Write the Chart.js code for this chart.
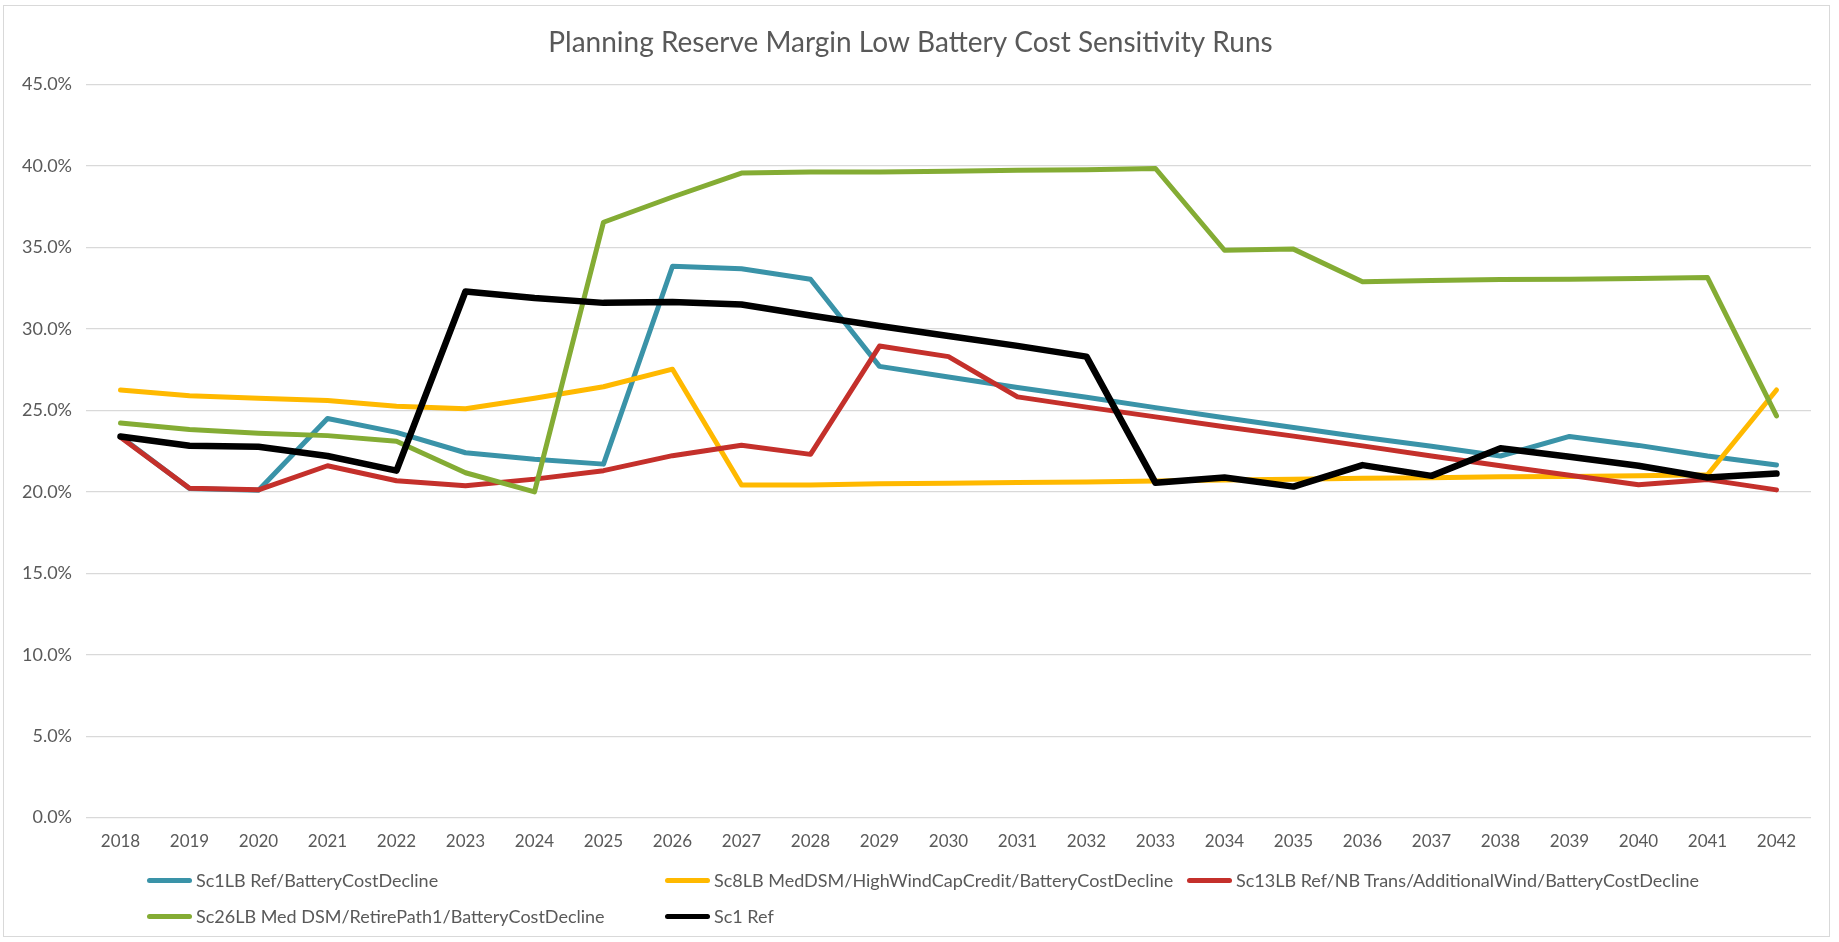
<!DOCTYPE html>
<html>
<head>
<meta charset="utf-8">
<script src="https://cdn.jsdelivr.net/npm/chart.js@4"></script>
<style>
html, body { margin: 0; padding: 0; background: #fff; }
#wrap { position: relative; width: 1839px; height: 942px; }
#frame { position: absolute; left: 3px; top: 5px; width: 1827px; height: 932px; border: 1px solid #d9d9d9; box-sizing: border-box; pointer-events: none; }
#legend .item { position: absolute; display: flex; align-items: center; font: 18px Lato, sans-serif; color: #595959; white-space: nowrap; }
#legend .swatch { width: 45px; height: 5px; border-radius: 3px; margin-right: 4px; }
</style>
</head>
<body>
<div id="wrap">
    <canvas id="prmChart" width="1839" height="942"></canvas>
    <div id="frame"></div>
    <div id="legend"></div>
</div>
<script>
// ======================================
// DATA
// ======================================

const years = [
    "2018","2019","2020","2021","2022","2023","2024","2025","2026",
    "2027","2028","2029","2030","2031","2032","2033","2034","2035",
    "2036","2037","2038","2039","2040","2041","2042"
];

const seriesNames = [
    "Sc1LB Ref/BatteryCostDecline",
    "Sc8LB MedDSM/HighWindCapCredit/BatteryCostDecline",
    "Sc13LB Ref/NB Trans/AdditionalWind/BatteryCostDecline",
    "Sc26LB Med DSM/RetirePath1/BatteryCostDecline",
    "Sc1 Ref"
];

// values in percent
const sc1lb = [23.4, 20.2, 20.1, 24.5, 23.65, 22.4, 22.0, 21.7, 33.85, 33.7, 33.05, 27.7, 27.05, 26.4, 25.8, 25.17, 24.55, 23.95, 23.35, 22.8, 22.2, 23.4, 22.85, 22.2, 21.65];
const sc8lb = [26.25, 25.9, 25.75, 25.6, 25.25, 25.1, 25.75, 26.45, 27.53, 20.42, 20.42, 20.5, 20.52, 20.57, 20.6, 20.67, 20.72, 20.77, 20.83, 20.87, 20.92, 20.94, 20.98, 21.05, 26.25];
const sc13lb = [23.35, 20.22, 20.12, 21.6, 20.68, 20.37, 20.78, 21.3, 22.22, 22.86, 22.3, 28.95, 28.3, 25.83, 25.2, 24.6, 24.0, 23.42, 22.82, 22.2, 21.6, 21.02, 20.43, 20.75, 20.12];
const sc26lb = [24.23, 23.82, 23.6, 23.45, 23.1, 21.17, 20.0, 36.55, 38.1, 39.57, 39.63, 39.63, 39.68, 39.74, 39.78, 39.85, 34.83, 34.9, 32.9, 32.97, 33.03, 33.05, 33.1, 33.15, 24.66];
const sc1ref = [23.4, 22.83, 22.77, 22.2, 21.3, 32.3, 31.9, 31.6, 31.65, 31.5, 30.82, 30.18, 29.57, 28.96, 28.3, 20.55, 20.88, 20.32, 21.64, 20.98, 22.68, 22.15, 21.6, 20.88, 21.12];

const colors = ["#3a93a8", "#ffb900", "#c4302b", "#84ac34", "#000000"];

// ======================================
// CHART
// ======================================

const allValues = [sc1lb, sc8lb, sc13lb, sc26lb, sc1ref];

const datasets = allValues.map((vals, i) => ({
    label: seriesNames[i],
    data: vals,
    borderColor: colors[i],
    backgroundColor: colors[i],
    borderWidth: i === 4 ? 6.5 : 5,
    pointRadius: 0,
    tension: 0,
    borderCapStyle: "round",
    borderJoinStyle: "round",
    order: 5 - i
}));

const chart = new Chart(
    document.getElementById("prmChart"),
    {
        type: "line",
        data: { labels: years, datasets: datasets },
        options: {
            responsive: false,
            animation: false,
            layout: {
                padding: { left: 10, right: 28, top: 0, bottom: 76 }
            },
            plugins: {
                legend: { display: false },
                tooltip: { enabled: false },
                title: {
                    display: true,
                    text: "Planning Reserve Margin Low Battery Cost Sensitivity Runs",
                    color: "#595959",
                    font: { family: "Lato", size: 28, weight: "normal" },
                    padding: { top: 26, bottom: 25 }
                }
            },
            scales: {
                x: {
                    offset: true,
                    grid: { display: false, drawTicks: false },
                    border: { display: false },
                    ticks: {
                        color: "#595959",
                        font: { family: "Lato", size: 17 },
                        padding: 14,
                        maxRotation: 0,
                        autoSkip: false
                    }
                },
                y: {
                    min: 0,
                    max: 45,
                    grid: { color: "#d9d9d9", lineWidth: 1.3, drawTicks: false },
                    border: { display: false },
                    ticks: {
                        stepSize: 5,
                        color: "#595959",
                        font: { family: "Lato", size: 18 },
                        padding: 14,
                        callback: v => v.toFixed(1) + "%"
                    },
                    afterFit: s => { s.width = 76; }
                }
            }
        }
    }
);

// ======================================
// LEGEND
// ======================================

const legendSpots = [[147, 880], [665, 880], [1187, 880], [147, 916], [665, 916]];
const legendBox = document.getElementById("legend");

chart.data.datasets.forEach((ds, i) => {
    const item = document.createElement("div");
    item.className = "item";
    item.style.left = legendSpots[i][0] + "px";
    item.style.top = (legendSpots[i][1] - 11) + "px";
    item.style.height = "22px";
    const sw = document.createElement("span");
    sw.className = "swatch";
    sw.style.background = ds.borderColor;
    const txt = document.createElement("span");
    txt.textContent = ds.label;
    item.appendChild(sw);
    item.appendChild(txt);
    legendBox.appendChild(item);
});
</script>
</body>
</html>
